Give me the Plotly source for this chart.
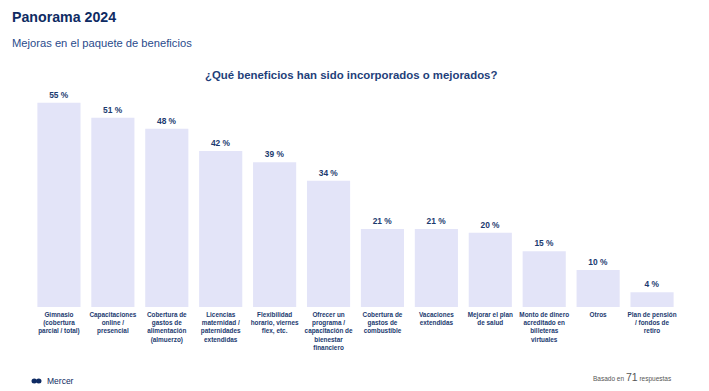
import plotly.graph_objects as go

categories = [
    "Gimnasio<br>(cobertura<br>parcial / total)",
    "Capacitaciones<br>online /<br>presencial",
    "Cobertura de<br>gastos de<br>alimentación<br>(almuerzo)",
    "Licencias<br>maternidad /<br>paternidades<br>extendidas",
    "Flexibilidad<br>horario, viernes<br>flex, etc.",
    "Ofrecer un<br>programa /<br>capacitación de<br>bienestar<br>financiero",
    "Cobertura de<br>gastos de<br>combustible",
    "Vacaciones<br>extendidas",
    "Mejorar el plan<br>de salud",
    "Monto de dinero<br>acreditado en<br>billeteras<br>virtuales",
    "Otros",
    "Plan de pensión<br>/ fondos de<br>retiro",
]
values = [55, 51, 48, 42, 39, 34, 21, 21, 20, 15, 10, 4]
labels = [f"{v} %" for v in values]

NAVY = "#1B3A6F"
BAR = "#E3E4F8"

# page body has an 8px margin; figure coordinates are offset accordingly
OFF = 8
W, H = 709 - OFF, 391 - OFF
L, R, T, B = 31.5 - OFF, 709 - 679.5, 88 - OFF, 391 - 307

fig = go.Figure(go.Bar(
    x=list(range(len(categories))),
    y=values,
    text=labels,
    textposition="outside",
    textfont=dict(family="Liberation Sans, Arial", size=8.4, color=NAVY, weight="bold"),
    marker=dict(color=BAR, line=dict(width=0)),
    cliponaxis=False,
))

fig.update_layout(
    width=W, height=H,
    margin=dict(l=L, r=R, t=T, b=B, autoexpand=False),
    paper_bgcolor="white", plot_bgcolor="white",
    bargap=0.2,
    showlegend=False,
    font=dict(family="Liberation Sans, Arial", color=NAVY),
    xaxis=dict(
        tickmode="array",
        tickvals=list(range(len(categories))),
        ticktext=[f"<b>{c}</b>" for c in categories],
        tickfont=dict(size=6.4, color=NAVY),
        tickangle=0,
        ticks="outside", ticklen=1, tickcolor="rgba(0,0,0,0)",
        showgrid=False, zeroline=False, showline=False,
        range=[-0.5, len(categories) - 0.5],
    ),
    yaxis=dict(visible=False, range=[0, 59]),
)


def px_to_paper(xp, yp):
    # xp, yp are page pixel positions
    xp -= OFF
    yp -= OFF
    pw = W - L - R
    ph = H - T - B
    return (xp - L) / pw, (H - B - yp) / ph


for txt, xp, yp, size, color, anchor in [
    ("<b>Panorama 2024</b>", 9, 17, 14.2, "#0E2B63", "left"),
    ("Mejoras en el paquete de beneficios", 9, 43, 11.2, "#2A4B8C", "left"),
    ("<b>¿Qué beneficios han sido incorporados o mejorados?</b>", 351, 75, 11.4, "#1F3F7A", "center"),
    ("Mercer", 45, 381, 8.5, "#0E2B63", "left"),
]:
    ax, ay = px_to_paper(xp, yp)
    fig.add_annotation(text=txt, x=ax, y=ay, xref="paper", yref="paper",
                       showarrow=False, xanchor=anchor, yanchor="middle",
                       font=dict(size=size, color=color))

ax, ay = px_to_paper(674, 377)
fig.add_annotation(
    text="<span style='font-size:6.5px'>Basado en </span><span style='font-size:10.5px'>71</span><span style='font-size:6.5px'> respuestas</span>",
    x=ax, y=ay, xref="paper", yref="paper", showarrow=False,
    xanchor="right", yanchor="middle", font=dict(color="#555555", size=6.5))

# Mercer logo marks
for x0, x1 in [(31, 36.5), (35.5, 41)]:
    fig.add_shape(type="circle", xref="paper", yref="paper",
                  x0=px_to_paper(x0, 0)[0], x1=px_to_paper(x1, 0)[0],
                  y0=px_to_paper(0, 383.5)[1], y1=px_to_paper(0, 378.5)[1],
                  fillcolor="#0E2B63", line=dict(width=0))

fig.write_html("out.html")
